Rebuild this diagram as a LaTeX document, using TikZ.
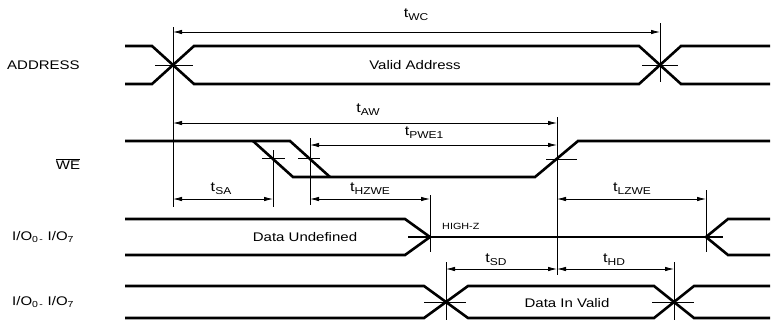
\documentclass[tikz,border=0pt]{standalone}
\usepackage{fontspec}
\setmainfont{Liberation Sans}[FakeStretch=1.2]
\usetikzlibrary{arrows.meta}
\newcommand\tsb[1]{t\raisebox{-0.45ex}{\fontsize{10}{10}\selectfont #1}}
\begin{document}
\begin{tikzpicture}[x=1pt,y=-1pt,
  sig/.style={line width=2.6pt},
  thinl/.style={line width=0.8pt},
  tick/.style={line width=0.6pt},
  dimarrow/.style={line width=0.8pt,{Latex[length=9pt,width=4.5pt]}-{Latex[length=9pt,width=4.5pt]}},
  lbl/.style={font=\fontsize{12.5}{14}\selectfont, inner sep=0pt},
  tlbl/.style={font=\fontsize{13.5}{14}\selectfont, inner sep=0pt},
  small/.style={font=\fontsize{9}{10}\selectfont, inner sep=0pt}]
\useasboundingbox (0,0) rectangle (775,325);

% ---------- signal labels ----------
\node[lbl,anchor=west] (addrL) at (7,65) {ADDRESS};
\node[lbl] (weL) at (68,164) {$\overline{\hbox{WE}}$};
\node[lbl,anchor=west] (io1L) at (12,237) {I/O\textsubscript{0\,-} I/O\textsubscript{7}};
\node[lbl,anchor=west] (io2L) at (12,302) {I/O\textsubscript{0\,-} I/O\textsubscript{7}};

% ---------- ADDRESS ----------
\draw[sig] (125,46) -- (152,46) -- (194,84) -- (639,84) -- (681,46) -- (770,46);
\draw[sig] (125,84) -- (152,84) -- (194,46) -- (639,46) -- (681,84) -- (770,84);
\node[lbl] (va) at (415,65) {Valid Address};

% ---------- WE ----------
\draw[sig] (125,141) -- (290,141) -- (330,177);
\draw[sig] (253,141) -- (293,177) -- (535,177) -- (578,141) -- (770,141);

% ---------- I/O first ----------
\draw[sig] (125,219) -- (405,219) -- (430,237);
\draw[sig] (125,255) -- (405,255) -- (430,237);
\draw[sig] (408,237) -- (723,237);
\draw[sig] (706,237) -- (728,219) -- (770,219);
\draw[sig] (706,237) -- (728,255) -- (770,255);
\node[lbl] (du) at (305,237) {Data Undefined};
\node[small,anchor=west] (hz) at (442,226) {HIGH-Z};

% ---------- I/O second ----------
\draw[sig] (125,286) -- (424,286) -- (468,318) -- (654,318) -- (694,286) -- (770,286);
\draw[sig] (125,318) -- (424,318) -- (468,286) -- (654,286) -- (694,318) -- (770,318);
\node[lbl] (div) at (567,303) {Data In Valid};

% ---------- reference coordinates ----------
\coordinate (wc1) at (173,32);  \coordinate (wc2) at (660,32);
\coordinate (aw1) at (173,123); \coordinate (aw2) at (557,123);
\coordinate (pw1) at (310,145); \coordinate (pw2) at (557,145);
\coordinate (sa1) at (173,199); \coordinate (sa2) at (273,199);
\coordinate (hz1) at (310,199); \coordinate (hz2) at (430,199);
\coordinate (lz1) at (557,199); \coordinate (lz2) at (706,199);
\coordinate (sd1) at (446,269); \coordinate (sd2) at (557,269);
\coordinate (hd1) at (557,269); \coordinate (hd2) at (674,269);

% ---------- vertical reference lines ----------
\draw[thinl] (173,27) -- (173,207);
\draw[thinl] (660,23) -- (660,82);
\draw[thinl] (557,117) -- (557,275);
\draw[thinl] (273,150) -- (273,207);
\draw[thinl] (310,138) -- (310,205);
\draw[thinl] (430,195) -- (430,252);
\draw[thinl] (706,190) -- (706,252);
\draw[thinl] (446,262) -- (446,320);
\draw[thinl] (674,262) -- (674,320);

% ---------- crossing ticks ----------
\draw[tick] (155,65) -- (193,65);
\draw[tick] (642,65) -- (678,65);
\draw[tick] (262,158) -- (285,158);
\draw[tick] (298,158) -- (320,158);
\draw[tick] (546,159) -- (577,159);
\draw[tick] (424,302) -- (466,302);
\draw[tick] (652,302) -- (694,302);

% ---------- dimension arrows ----------
\draw[dimarrow] (wc1) -- (wc2);
\draw[dimarrow] (aw1) -- (aw2);
\draw[dimarrow] (pw1) -- (pw2);
\draw[dimarrow] (sa1) -- (sa2);
\draw[dimarrow] (hz1) -- (hz2);
\draw[dimarrow] (lz1) -- (lz2);
\draw[dimarrow] (sd1) -- (sd2);
\draw[dimarrow] (hd1) -- (hd2);

\node[tlbl] (twc) at (416,15) {\tsb{WC}};
\node[tlbl] (taw) at (368,110) {\tsb{AW}};
\node[tlbl] (tpw) at (424,133) {\tsb{PWE1}};
\node[tlbl] (tsa) at (221,189) {\tsb{SA}};
\node[tlbl] (thz) at (370,189) {\tsb{HZWE}};
\node[tlbl] (tlz) at (632,189) {\tsb{LZWE}};
\node[tlbl] (tsd) at (496,260) {\tsb{SD}};
\node[tlbl] (thd) at (614,260) {\tsb{HD}};
\end{tikzpicture}
\end{document}
